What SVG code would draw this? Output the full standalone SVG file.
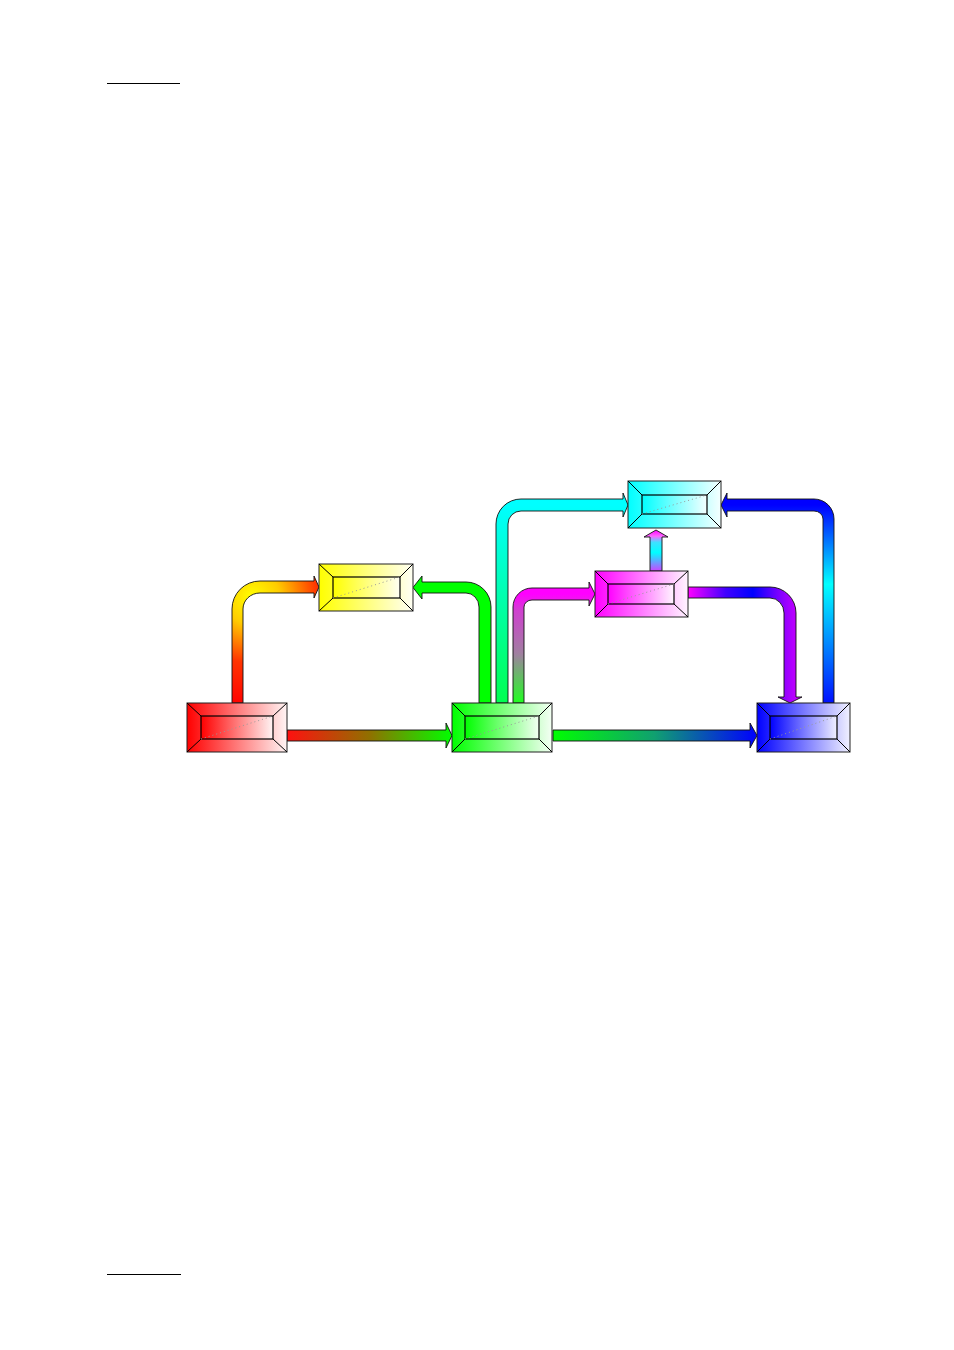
<svg xmlns="http://www.w3.org/2000/svg" width="954" height="1350" viewBox="0 0 954 1350">
<style>
.frame{stroke:#222;stroke-width:1}
.inner{stroke:#000;stroke-width:1.2}
.bev{stroke:#000;stroke-width:1;fill:none}
.dot{stroke:#999;stroke-width:1;stroke-dasharray:1 3;fill:none}
.conn{stroke:#111;stroke-width:0.9;stroke-linejoin:round}
.rule{stroke:#000;stroke-width:1.2}
</style>
<defs>
<linearGradient id="gRed" x1="0" y1="0" x2="1" y2="0"><stop offset="0" stop-color="#ff0000"/><stop offset="1" stop-color="#fff4f4"/></linearGradient>
<linearGradient id="gYel" x1="0" y1="0" x2="1" y2="0"><stop offset="0" stop-color="#ffff00"/><stop offset="1" stop-color="#fffff4"/></linearGradient>
<linearGradient id="gGrn" x1="0" y1="0" x2="1" y2="0"><stop offset="0" stop-color="#00ff00"/><stop offset="1" stop-color="#f4fff4"/></linearGradient>
<linearGradient id="gCyn" x1="0" y1="0" x2="1" y2="0"><stop offset="0" stop-color="#00ffff"/><stop offset="1" stop-color="#f4ffff"/></linearGradient>
<linearGradient id="gMag" x1="0" y1="0" x2="1" y2="0"><stop offset="0" stop-color="#ff00ff"/><stop offset="1" stop-color="#fff4ff"/></linearGradient>
<linearGradient id="gBlu" x1="0" y1="0" x2="1" y2="0"><stop offset="0" stop-color="#0000ff"/><stop offset="1" stop-color="#f0f0ff"/></linearGradient>

<linearGradient id="cRG" gradientUnits="userSpaceOnUse" x1="287" y1="0" x2="452" y2="0"><stop offset="0" stop-color="#ff1010"/><stop offset="0.5" stop-color="#907000"/><stop offset="1" stop-color="#00ff00"/></linearGradient>
<linearGradient id="cGB" gradientUnits="userSpaceOnUse" x1="552" y1="0" x2="757" y2="0"><stop offset="0" stop-color="#00ff00"/><stop offset="0.5" stop-color="#10a070"/><stop offset="1" stop-color="#0000ff"/></linearGradient>
<radialGradient id="cRY" gradientUnits="userSpaceOnUse" cx="252" cy="597" r="110"><stop offset="0" stop-color="#ffff00"/><stop offset="0.25" stop-color="#ffcc00"/><stop offset="0.6" stop-color="#ff3300"/><stop offset="1" stop-color="#ff0000"/></radialGradient>
<linearGradient id="cGC" gradientUnits="userSpaceOnUse" x1="0" y1="703" x2="0" y2="505"><stop offset="0" stop-color="#00ff50"/><stop offset="1" stop-color="#00ffff"/></linearGradient>
<linearGradient id="cGM" gradientUnits="userSpaceOnUse" x1="0" y1="703" x2="0" y2="594"><stop offset="0" stop-color="#20ff20"/><stop offset="0.45" stop-color="#a080a0"/><stop offset="0.85" stop-color="#d040d0"/><stop offset="1" stop-color="#ff00ff"/></linearGradient>
<linearGradient id="cMC" gradientUnits="userSpaceOnUse" x1="0" y1="571" x2="0" y2="530"><stop offset="0" stop-color="#cc44ff"/><stop offset="0.45" stop-color="#00ffff"/><stop offset="0.7" stop-color="#40e0ff"/><stop offset="0.85" stop-color="#ff66ff"/><stop offset="1" stop-color="#ff00ff"/></linearGradient>
<linearGradient id="cMB" gradientUnits="userSpaceOnUse" x1="688" y1="0" x2="796" y2="0"><stop offset="0" stop-color="#ff00ff"/><stop offset="0.35" stop-color="#4000ff"/><stop offset="0.6" stop-color="#0000ff"/><stop offset="0.85" stop-color="#8000ff"/><stop offset="1" stop-color="#c000ff"/></linearGradient>
<linearGradient id="cBC" gradientUnits="userSpaceOnUse" x1="0" y1="703" x2="0" y2="505"><stop offset="0" stop-color="#0010ff"/><stop offset="0.6" stop-color="#00ffff"/><stop offset="0.9" stop-color="#0040ff"/><stop offset="1" stop-color="#0000ff"/></linearGradient>
</defs>

<rect x="0" y="0" width="954" height="1350" fill="#ffffff"/>
<line class="rule" x1="107" y1="83.5" x2="180" y2="83.5"/>
<line class="rule" x1="107" y1="1274.5" x2="181" y2="1274.5"/>

<g id="connectors">
<path class="conn" fill="url(#cRG)" d="M287,730 L446,730 L446,723 L452,735.5 L446,748 L446,741 L287,741 Z"/>
<path class="conn" fill="url(#cGB)" d="M553,730 L750,730 L750,723 L757,735.5 L750,748 L750,741 L553,741 Z"/>
<path class="conn" fill="url(#cRY)" d="M232,703 L232,609 A28,28 0 0 1 260,581 L314,581 L314,576 L319,587 L314,598 L314,593 L260,593 A17,16 0 0 0 243,609 L243,703 Z"/>
<path class="conn" fill="#00ff00" d="M491,703 L491,607 A25,25 0 0 0 466,582 L422,582 L422,576 L413,587.5 L422,599 L422,593 L466,593 A13,14 0 0 1 479,607 L479,703 Z"/>
<path class="conn" fill="url(#cGC)" d="M496,703 L496,524 A25,25 0 0 1 521,499 L623,499 L623,493 L628,505 L623,517 L623,511 L521,511 A13,13 0 0 0 508,524 L508,703 Z"/>
<path class="conn" fill="url(#cGM)" d="M513,703 L513,607 A19,19 0 0 1 532,588 L589,588 L589,582 L595,594 L589,606 L589,600 L532,600 A8,7 0 0 0 524,607 L524,703 Z"/>
<path class="conn" fill="url(#cMC)" d="M650,571 L650,537 L644,537 L656,530 L668,537 L662,537 L662,571 Z"/>
<path class="conn" fill="url(#cMB)" d="M688,587 L770,587 A26,26 0 0 1 796,613 L796,697 L802,697 L790,703 L778,697 L784,697 L784,613 A14,15 0 0 0 770,598 L688,598 Z"/>
<path class="conn" fill="url(#cBC)" d="M823,703 L823,519 A9,8 0 0 0 814,511 L727,511 L727,517 L721,505 L727,493 L727,499 L814,499 A20,20 0 0 1 834,519 L834,703 Z"/>
</g>

<g id="node-red">
<rect class="frame" x="187" y="703" width="100" height="49" fill="url(#gRed)"/>
<rect class="inner" x="201" y="716" width="72" height="23" fill="url(#gRed)"/>
<path class="bev" d="M187,703 L201,716 M287,703 L273,716 M187,752 L201,739 M287,752 L273,739"/>
<line class="dot" x1="201" y1="739" x2="273" y2="716"/>
</g>

<g id="node-green">
<rect class="frame" x="452" y="703" width="100" height="49" fill="url(#gGrn)"/>
<rect class="inner" x="465" y="716" width="74" height="23" fill="url(#gGrn)"/>
<path class="bev" d="M452,703 L465,716 M552,703 L539,716 M452,752 L465,739 M552,752 L539,739"/>
<line class="dot" x1="465" y1="739" x2="539" y2="716"/>
</g>

<g id="node-blue">
<rect class="frame" x="757" y="703" width="93" height="49" fill="url(#gBlu)"/>
<rect class="inner" x="770" y="716" width="67" height="23" fill="url(#gBlu)"/>
<path class="bev" d="M757,703 L770,716 M850,703 L837,716 M757,752 L770,739 M850,752 L837,739"/>
<line class="dot" x1="770" y1="739" x2="837" y2="716"/>
</g>

<g id="node-yellow">
<rect class="frame" x="319" y="564" width="94" height="47" fill="url(#gYel)"/>
<rect class="inner" x="333" y="577" width="67" height="21" fill="url(#gYel)"/>
<path class="bev" d="M319,564 L333,577 M413,564 L400,577 M319,611 L333,598 M413,611 L400,598"/>
<line class="dot" x1="333" y1="598" x2="400" y2="577"/>
</g>

<g id="node-cyan">
<rect class="frame" x="628" y="481" width="93" height="47" fill="url(#gCyn)"/>
<rect class="inner" x="642" y="495" width="65" height="19" fill="url(#gCyn)"/>
<path class="bev" d="M628,481 L642,495 M721,481 L707,495 M628,528 L642,514 M721,528 L707,514"/>
<line class="dot" x1="642" y1="514" x2="707" y2="495"/>
</g>

<g id="node-magenta">
<rect class="frame" x="595" y="571" width="93" height="46" fill="url(#gMag)"/>
<rect class="inner" x="608" y="584" width="66" height="20" fill="url(#gMag)"/>
<path class="bev" d="M595,571 L608,584 M688,571 L674,584 M595,617 L608,604 M688,617 L674,604"/>
<line class="dot" x1="608" y1="604" x2="674" y2="584"/>
</g>
</svg>
